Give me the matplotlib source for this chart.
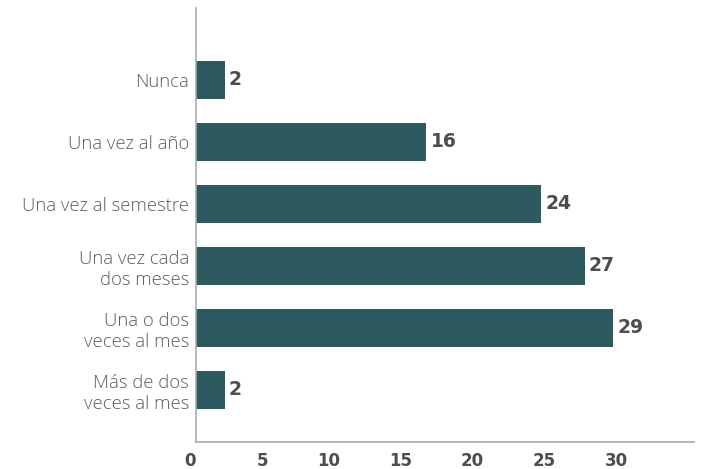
import matplotlib.pyplot as plt

# Frecuencia (número de respuestas)
categorias = [
    "Nunca",
    "Una vez al año",
    "Una vez al semestre",
    "Una vez cada\ndos meses",
    "Una o dos\nveces al mes",
    "Más de dos\nveces al mes",
]
valores = [2, 16, 24, 27, 29, 2]
ticks_x = [0, 5, 10, 15, 20, 25, 30]

bar_color = "#2e5a5f"
text_gray = "#5c5c5c"
num_gray = "#4d4d4d"

plt.rcParams['font.family'] = ['Open Sans', 'DejaVu Sans']

fig = plt.figure(figsize=(7.02, 4.69), dpi=100)
ax = fig.add_axes([196 / 702, 1 - 442 / 469, (694 - 196) / 702, (442 - 8) / 469])

pos = list(range(len(categorias)))
ax.barh(pos, valores, height=0.61, color=bar_color)

for p, v in zip(pos, valores):
    ax.annotate(str(v), (v, p), xytext=(3, 0), textcoords='offset points',
                ha='left', va='center', fontsize=13.5, fontweight='bold',
                family='DejaVu Sans', color=num_gray)

ax.set_xlim(0, 34.6)
ax.set_ylim(5.84, -1.16)

ax.set_yticks(pos)
ax.set_yticklabels(categorias, fontsize=13.3, color=text_gray, fontweight='light',
                   linespacing=1.2)
ax.tick_params(axis='y', length=0, pad=5)

ax.set_xticks(ticks_x)
ax.set_xticklabels([str(t) for t in ticks_x], fontsize=12, fontweight='bold',
                   family='DejaVu Sans', color=num_gray, ha='right')
ax.tick_params(axis='x', length=0, pad=7)

for s in ['top', 'right']:
    ax.spines[s].set_visible(False)
for s in ['left', 'bottom']:
    ax.spines[s].set_color('#aaaaaa')
    ax.spines[s].set_linewidth(1.2)

fig.savefig('out.png', dpi=100)
